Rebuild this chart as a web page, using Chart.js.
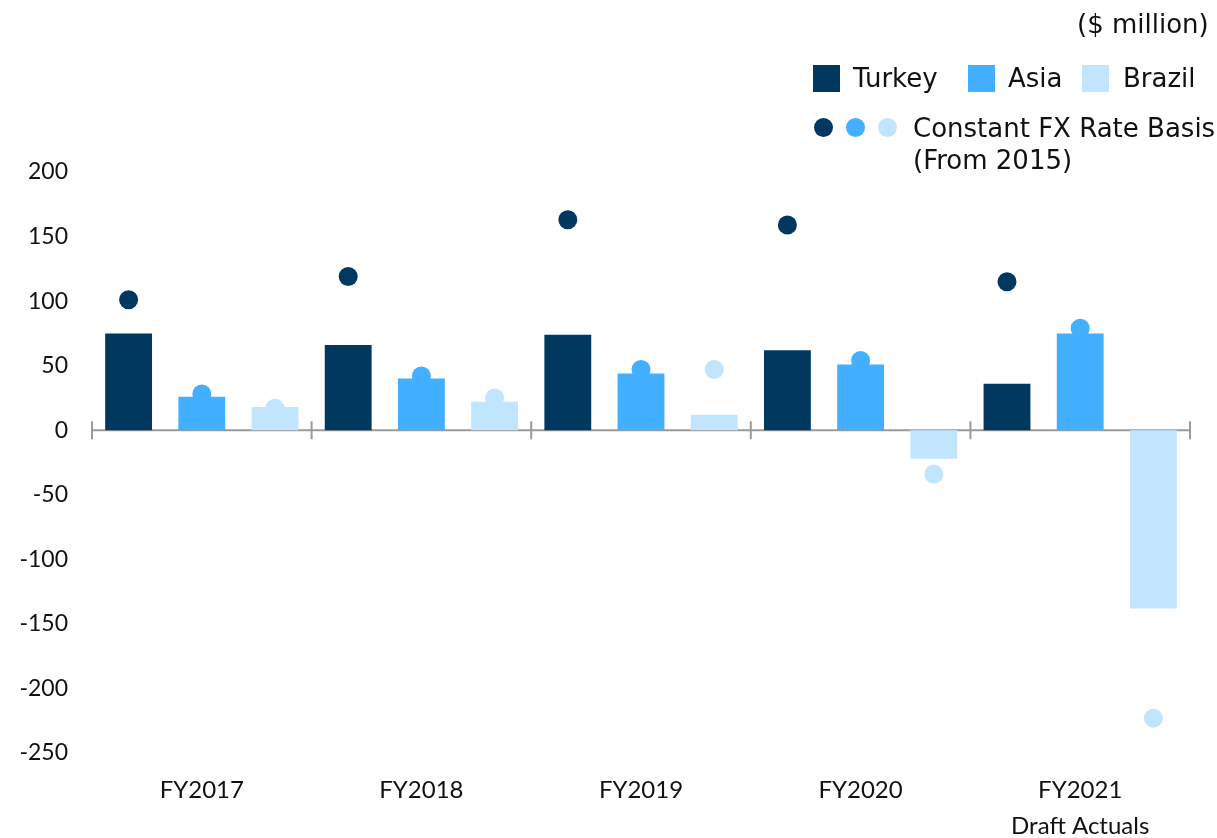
<!DOCTYPE html>
<html>
<head>
<meta charset="utf-8">
<script src="https://cdn.jsdelivr.net/npm/chart.js@4"></script>
<style>
  body { margin: 0; background: #fff; }
  #wrap { position: relative; width: 1217px; height: 838px; }
  #legend { position: absolute; left: 0; top: 0; width: 1217px; height: 200px; font-family: "DejaVu Sans", Verdana, sans-serif; font-size: 26px; color: #111; pointer-events: none; }
  .abs { position: absolute; white-space: nowrap; }
  .sq { position: absolute; width: 27px; height: 27px; }
  .dot { position: absolute; width: 19px; height: 19px; border-radius: 50%; }
</style>
</head>
<body>
<div id="wrap">
  <canvas id="chart" width="1217" height="838"></canvas>
  <div id="legend"></div>
</div>
<script>
// 資料
const labels = ["FY2017", "FY2018", "FY2019", "FY2020", ["FY2021", "Draft Actuals"]];
const turkey = [75, 66, 74, 62, 36];
const asia = [26, 40, 44, 51, 75];
const brazil = [18, 22, 12, -22, -138];
const turkeyFx = [101, 119, 163, 159, 115];
const asiaFx = [28, 42, 47, 54, 79];
const brazilFx = [17, 25, 47, -34, -223];
const yTicks = [200, 150, 100, 50, 0, -50, -100, -150, -200, -250];

const cTurkey = "#00385F";
const cAsia = "#42AFFF";
const cBrazil = "#C1E4FF";
const axisGray = "#9A9A9A";

// 圖例 (HTML)
const legend = document.getElementById("legend");
legend.innerHTML = `
  <div class="abs" style="left:1077px; top:9px;">($ million)</div>
  <div class="sq" style="left:813px; top:65px; background:${cTurkey}"></div>
  <div class="abs" style="left:853px; top:63px;">Turkey</div>
  <div class="sq" style="left:968px; top:65px; background:${cAsia}"></div>
  <div class="abs" style="left:1008px; top:63px;">Asia</div>
  <div class="sq" style="left:1082px; top:65px; background:${cBrazil}"></div>
  <div class="abs" style="left:1123px; top:63px;">Brazil</div>
  <div class="dot" style="left:814px; top:118px; background:${cTurkey}"></div>
  <div class="dot" style="left:846px; top:118px; background:${cAsia}"></div>
  <div class="dot" style="left:878px; top:118px; background:${cBrazil}"></div>
  <div class="abs" style="left:913px; top:112px; line-height:32px;">Constant FX Rate Basis<br>(From 2015)</div>
`;

// 固定匯率的點：畫在對應長條的中心
const fxSeries = [
  { data: turkeyFx, color: cTurkey },
  { data: asiaFx, color: cAsia },
  { data: brazilFx, color: cBrazil },
];
const fxDots = {
  id: "fxDots",
  afterDatasetsDraw(chart) {
    const ys = chart.scales.y;
    const c = chart.ctx;
    c.save();
    fxSeries.forEach((s, k) => {
      const bars = chart.getDatasetMeta(k).data;
      c.fillStyle = s.color;
      s.data.forEach((v, i) => {
        c.beginPath();
        c.arc(bars[i].x, ys.getPixelForValue(v), 9.5, 0, Math.PI * 2);
        c.fill();
      });
    });
    c.restore();
  }
};

// 零線與刻度
const zeroAxis = {
  id: "zeroAxis",
  beforeDatasetsDraw(chart) {
    const xs = chart.scales.x, ys = chart.scales.y;
    const y0 = ys.getPixelForValue(0);
    const half = (xs.getPixelForValue(1) - xs.getPixelForValue(0)) / 2;
    const c = chart.ctx;
    c.save();
    c.strokeStyle = axisGray;
    c.lineWidth = 2;
    c.beginPath();
    c.moveTo(xs.left, y0);
    c.lineTo(xs.right, y0);
    for (let i = 0; i <= labels.length; i++) {
      const x = i < labels.length ? xs.getPixelForValue(i) - half : xs.getPixelForValue(i - 1) + half;
      c.moveTo(x, y0 - 9);
      c.lineTo(x, y0 + 9);
    }
    c.stroke();
    c.restore();
  }
};

const barCommon = { categoryPercentage: 1, barPercentage: 0.64 };

new Chart(document.getElementById("chart"), {
  type: "bar",
  data: {
    labels: labels,
    datasets: [
      { ...barCommon, label: "Turkey", data: turkey, backgroundColor: cTurkey },
      { ...barCommon, label: "Asia", data: asia, backgroundColor: cAsia },
      { ...barCommon, label: "Brazil", data: brazil, backgroundColor: cBrazil },
    ],
  },
  options: {
    responsive: false,
    animation: false,
    layout: { padding: { top: 172, right: 27, left: 0, bottom: 0 } },
    plugins: { legend: { display: false }, tooltip: { enabled: false } },
    scales: {
      x: {
        offset: true,
        grid: { display: false },
        border: { display: false },
        ticks: { color: "#111", font: { family: "Lato", size: 24, lineHeight: 1.5 }, padding: 11, maxRotation: 0 },
        afterFit(scale) { scale.height = 85; },
      },
      y: {
        min: -250,
        max: 200,
        afterBuildTicks(scale) { scale.ticks = yTicks.map(v => ({ value: v })); },
        grid: { display: false, drawTicks: false },
        border: { display: false },
        ticks: { color: "#111", font: { family: "Lato", size: 23 }, padding: 24 },
        afterFit(scale) { scale.width = 92; },
      },
    },
  },
  plugins: [zeroAxis, fxDots],
});
</script>
</body>
</html>
